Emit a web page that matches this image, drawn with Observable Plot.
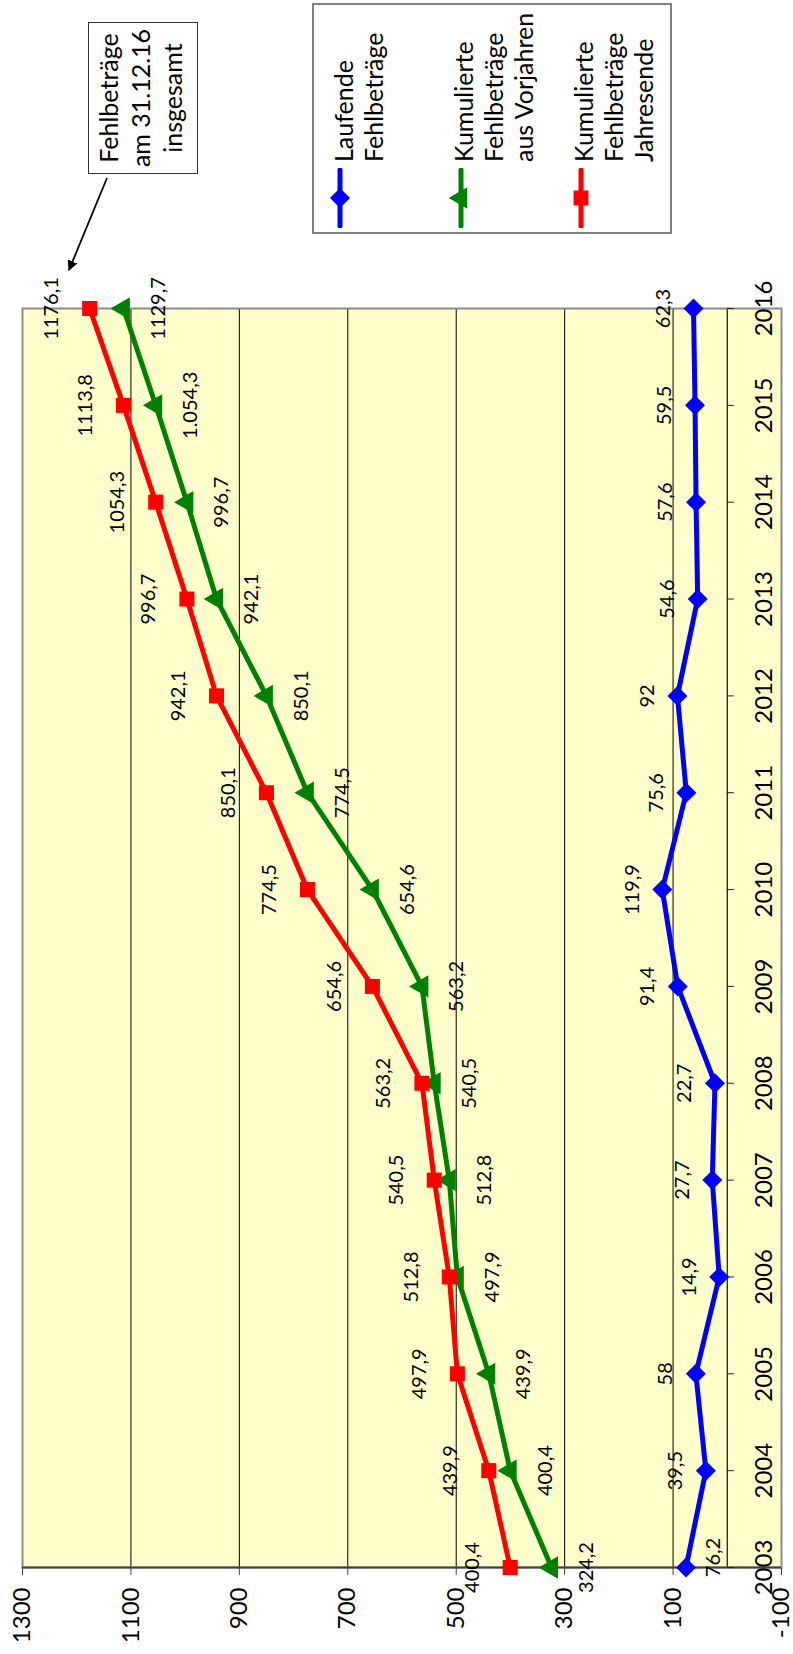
<!DOCTYPE html>
<html>
<head>
<meta charset="utf-8">
<script src="https://cdn.jsdelivr.net/npm/d3@7"></script>
<script src="https://cdn.jsdelivr.net/npm/@observablehq/plot@0.6"></script>
<style>
  html, body { margin: 0; padding: 0; background: #fff; overflow: hidden; width: 793px; height: 1654px; }
  #wrap { position: absolute; left: 0; top: 0; width: 1654px; height: 793px;
          transform-origin: 0 0; transform: translate(0, 1654px) rotate(-90deg);
          font-family: Lato, "Open Sans", sans-serif; color: #000; }
  #chart { position: absolute; left: 0; top: 0; }
  .legend { position: absolute; left: 1420px; top: 312px; width: 231px; height: 360px;
            border: 2px solid #808080; box-sizing: border-box; background: #fff; }
  .legend .sw { position: absolute; left: 4px; }
  .legend .lbl { position: absolute; left: 70px; font-size: 25px; line-height: 30px; white-space: nowrap; }
  .note { position: absolute; left: 1480px; top: 88px; width: 152px; height: 110px; box-sizing: border-box;
          border: 1.5px solid #333; background: #fff; text-align: center; font-size: 25px; line-height: 32px; padding-top: 3px; }
  #arrow { position: absolute; left: 0; top: 0; pointer-events: none; }
</style>
</head>
<body>
<div id="wrap">
  <div id="chart"></div>
  <div class="legend" id="legend"></div>
  <div class="note" id="note"></div>
  <svg id="arrow" width="1654" height="793"></svg>
</div>
<script>
// ---- data ----
const years = [2003, 2004, 2005, 2006, 2007, 2008, 2009, 2010, 2011, 2012, 2013, 2014, 2015, 2016];

const laufende = [76.2, 39.5, 58, 14.9, 27.7, 22.7, 91.4, 119.9, 75.6, 92, 54.6, 57.6, 59.5, 62.3];
const laufendeLabels = ["76,2", "39,5", "58", "14,9", "27,7", "22,7", "91,4", "119,9", "75,6", "92", "54,6", "57,6", "59,5", "62,3"];

const vorjahre = [324.2, 400.4, 439.9, 497.9, 512.8, 540.5, 563.2, 654.6, 774.5, 850.1, 942.1, 996.7, 1054.3, 1113.8];
const vorjahreLabels = ["324,2", "400,4", "439,9", "497,9", "512,8", "540,5", "563,2", "654,6", "774,5", "850,1", "942,1", "996,7", "1.054,3", "1129,7"];

const jahresende = [400.4, 439.9, 497.9, 512.8, 540.5, 563.2, 654.6, 774.5, 850.1, 942.1, 996.7, 1054.3, 1113.8, 1176.1];
const jahresendeLabels = ["400,4", "439,9", "497,9", "512,8", "540,5", "563,2", "654,6", "774,5", "850,1", "942,1", "996,7", "1054,3", "1113,8", "1176,1"];

const valueTicks = [-100, 100, 300, 500, 700, 900, 1100, 1300];
const seriesNames = [["Laufende", "Fehlbeträge"], ["Kumulierte", "Fehlbeträge", "aus Vorjahren"], ["Kumulierte", "Fehlbeträge", "Jahresende"]];
const seriesColors = ["#0000FF", "#008000", "#FF0000"];
const seriesSymbols = ["diamond2", "triangle", "square"];
const noteLines = ["Fehlbeträge", "am 31.12.16", "insgesamt"];

// ---- build ----
const mk = (vals, labels) => years.map((year, i) => ({year, value: vals[i], label: labels[i]}));
const blue = mk(laufende, laufendeLabels);
const green = mk(vorjahre, vorjahreLabels);
const red = mk(jahresende, jahresendeLabels);

const W = 1654, H = 793, mL = 86, mR = 309, mT = 22, mB = 12;
const yDom = [-100, 1300];
const zeroOffset = -((0 - yDom[0]) / (yDom[1] - yDom[0])) * (H - mT - mB);

const plot = Plot.plot({
  width: W, height: H, marginLeft: mL, marginRight: mR, marginTop: mT, marginBottom: mB,
  style: {fontFamily: "Lato, 'Open Sans', sans-serif", background: "transparent", overflow: "visible", color: "#000"},
  x: {type: "linear", domain: [years[0], years[years.length - 1]], axis: null},
  y: {domain: yDom, axis: null},
  marks: [
    Plot.frame({fill: "#FFFFCC"}),
    Plot.gridY(valueTicks, {stroke: "#000", strokeOpacity: 1, strokeWidth: 1}),
    Plot.ruleY([0], {stroke: "#222", strokeWidth: 1.3}),
    Plot.frame({stroke: "#8c8c8c", strokeWidth: 2}),
    Plot.ruleX([years[0]], {stroke: "#404040", strokeWidth: 2.2}),
    Plot.axisY(valueTicks, {anchor: "left", tickSize: 7, tickPadding: 13, fontSize: 24, tickFormat: d => String(d), label: null, stroke: "#404040"}),
    Plot.axisX(years, {anchor: "bottom", tickSize: 7, tickPadding: 21, fontSize: 24, tickFormat: d => String(d), label: null, dy: zeroOffset, stroke: "#222"}),
    Plot.line(blue, {x: "year", y: "value", stroke: seriesColors[0], strokeWidth: 5}),
    Plot.line(green, {x: "year", y: "value", stroke: seriesColors[1], strokeWidth: 5}),
    Plot.line(red, {x: "year", y: "value", stroke: seriesColors[2], strokeWidth: 5}),
    Plot.dot(blue, {x: "year", y: "value", symbol: seriesSymbols[0], r: 9, fill: seriesColors[0], stroke: null}),
    Plot.dot(green, {x: "year", y: "value", symbol: seriesSymbols[1], r: 8.3, fill: seriesColors[1], stroke: null}),
    Plot.dot(red, {x: "year", y: "value", symbol: seriesSymbols[2], r: 8.5, fill: seriesColors[2], stroke: null}),
    Plot.text(blue, {filter: (d, i) => i > 0, x: "year", y: "value", text: "label", dy: -30, fontSize: 20, fill: "#000"}),
    Plot.text(blue, {filter: (d, i) => i === 0, x: "year", y: "value", text: "label", dy: 28, dx: 10, fontSize: 20, fill: "#000"}),
    Plot.text(green, {x: "year", y: "value", text: "label", dy: 35, fontSize: 20, fill: "#000"}),
    Plot.text(red, {x: "year", y: "value", text: "label", dy: -38, fontSize: 20, fill: "#000"})
  ]
});
document.getElementById("chart").appendChild(plot);

// ---- legend ----
const legend = document.getElementById("legend");
const entryTops = [14, 134, 254];
const lineCenters = [26, 147, 267];
seriesNames.forEach((lines, i) => {
  const sw = document.createElementNS("http://www.w3.org/2000/svg", "svg");
  sw.setAttribute("class", "sw");
  sw.setAttribute("width", 60); sw.setAttribute("height", 24);
  sw.style.top = (lineCenters[i] - 12) + "px";
  const ln = document.createElementNS("http://www.w3.org/2000/svg", "line");
  ln.setAttribute("x1", 2); ln.setAttribute("x2", 58); ln.setAttribute("y1", 12); ln.setAttribute("y2", 12);
  ln.setAttribute("stroke", seriesColors[i]); ln.setAttribute("stroke-width", 5); ln.setAttribute("stroke-linecap", "round");
  sw.appendChild(ln);
  const sym = {diamond2: d3.symbolDiamond2, triangle: d3.symbolTriangle, square: d3.symbolSquare}[seriesSymbols[i]];
  const sizes = [255, 200, 220];
  const p = document.createElementNS("http://www.w3.org/2000/svg", "path");
  p.setAttribute("d", d3.symbol(sym, sizes[i])());
  p.setAttribute("transform", "translate(30,12)");
  p.setAttribute("fill", seriesColors[i]);
  sw.appendChild(p);
  legend.appendChild(sw);
  const lbl = document.createElement("div");
  lbl.className = "lbl";
  lbl.style.top = entryTops[i] + "px";
  lbl.innerHTML = lines.join("<br>");
  legend.appendChild(lbl);
});

// ---- note ----
document.getElementById("note").innerHTML = noteLines.join("<br>");

// ---- arrow (annotation pointer) ----
const arrow = d3.select("#arrow");
arrow.append("defs").append("marker")
  .attr("id", "ah").attr("viewBox", "0 0 10 10").attr("refX", 9).attr("refY", 5)
  .attr("markerWidth", 10).attr("markerHeight", 10).attr("markerUnits", "userSpaceOnUse")
  .attr("orient", "auto")
  .append("path").attr("d", "M0,0 L10,5 L0,10 Z").attr("fill", "#000").attr("transform", "scale(1.5) translate(-3.3,-1.67)");
arrow.append("line")
  .attr("x1", 1476).attr("y1", 107).attr("x2", 1384).attr("y2", 69)
  .attr("stroke", "#000").attr("stroke-width", 1.8).attr("marker-end", "url(#ah)");
</script>
</body>
</html>
